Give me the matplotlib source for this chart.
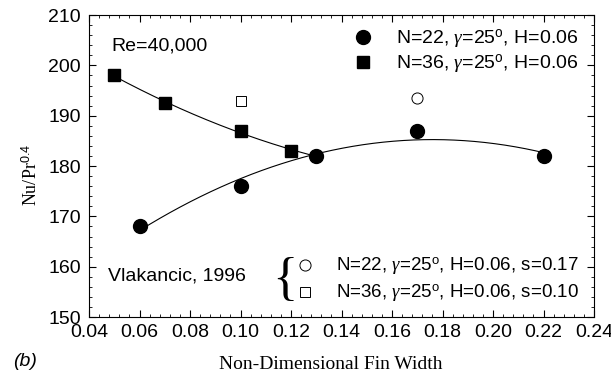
import numpy as np
import matplotlib
matplotlib.use("Agg")
import matplotlib.pyplot as plt
from matplotlib.lines import Line2D
from matplotlib.ticker import MultipleLocator

# datos
x_n22 = [0.06, 0.10, 0.13, 0.17, 0.22]
y_n22 = [168, 176, 182, 187, 182]
x_n36 = [0.05, 0.07, 0.10, 0.12]
y_n36 = [198, 192.5, 187, 183]
x_vl_circ = [0.17]
y_vl_circ = [193.5]
x_vl_sq = [0.10]
y_vl_sq = [193]

lab_n22 = r"N=22, $\gamma$=25$^{\rm o}$, H=0.06"
lab_n36 = r"N=36, $\gamma$=25$^{\rm o}$, H=0.06"
lab_vl_circ = r"N=22, $\gamma$=25$^{\rm o}$, H=0.06, s=0.17"
lab_vl_sq = r"N=36, $\gamma$=25$^{\rm o}$, H=0.06, s=0.10"

plt.rcParams['font.family'] = ['Liberation Sans', 'DejaVu Sans']
plt.rcParams['mathtext.fontset'] = 'custom'
plt.rcParams['mathtext.rm'] = 'Liberation Sans'
plt.rcParams['mathtext.it'] = 'Liberation Serif:italic'

fig = plt.figure(figsize=(6.11, 3.77), dpi=100)
ax = fig.add_axes([0.1457, 0.159, 0.8265, 0.801])

# curvas de ajuste (polinomio de grado 2)
c1 = np.polyfit(x_n22, y_n22, 2)
xf1 = np.linspace(min(x_n22), max(x_n22), 200)
ax.plot(xf1, np.polyval(c1, xf1), color='black', lw=0.8)
c2 = np.polyfit(x_n36 + [0.13], y_n36 + [182], 2)
xf2 = np.linspace(min(x_n36), 0.13, 200)
ax.plot(xf2, np.polyval(c2, xf2), color='black', lw=0.8)

ax.plot(x_n22, y_n22, 'o', color='black', ms=10, ls='none')
ax.plot(x_n36, y_n36, 's', color='black', ms=9, ls='none')
ax.plot(x_vl_circ, y_vl_circ, 'o', mfc='white', mec='black', mew=0.7, ms=8, ls='none')
ax.plot(x_vl_sq, y_vl_sq, 's', mfc='white', mec='black', mew=0.7, ms=7.5, ls='none')

ax.set_xlim(0.04, 0.24)
ax.set_ylim(150, 210)
ax.xaxis.set_major_locator(MultipleLocator(0.02))
ax.xaxis.set_minor_locator(MultipleLocator(0.004))
ax.yaxis.set_major_locator(MultipleLocator(10))
ax.yaxis.set_minor_locator(MultipleLocator(2))
ax.set_xticklabels([f"{v:.2f}" for v in ax.get_xticks()])
ax.tick_params(which='both', direction='in', top=True, right=True, labelsize=14)
ax.tick_params(which='major', length=5)
ax.tick_params(which='minor', length=2.5)
ax.tick_params(axis='x', pad=5)
ax.tick_params(axis='y', pad=6)

ax.set_xlabel("Non-Dimensional Fin Width", family='Liberation Serif', fontsize=14)
ax.xaxis.set_label_coords(0.478, -0.13)
ax.set_ylabel(r"Nu/Pr$^{0.4}$", family='Liberation Serif', fontsize=13)
ax.yaxis.set_label_coords(-0.095, 0.47)

ax.text(0.045, 0.897, "Re=40,000", transform=ax.transAxes, fontsize=14, va='center')
ax.text(0.037, 0.137, "Vlakancic, 1996", transform=ax.transAxes, fontsize=14, va='center')
ax.text(0.362, 0.12, "{", transform=ax.transAxes, fontsize=38, va='center',
        family='Liberation Serif')
fig.text(0.022, 0.028, "(b)", fontsize=14, style='italic')

h1 = [Line2D([], [], marker='o', color='black', ls='none', ms=10),
      Line2D([], [], marker='s', color='black', ls='none', ms=8)]
leg1 = ax.legend(h1, [lab_n22, lab_n36], loc='upper right', frameon=False,
                 fontsize=14, labelspacing=0.1, handletextpad=0.7,
                 borderaxespad=0.0, bbox_to_anchor=(0.984, 0.985))
ax.add_artist(leg1)
h2 = [Line2D([], [], marker='o', mfc='white', mec='black', mew=0.7, ls='none', ms=8),
      Line2D([], [], marker='s', mfc='white', mec='black', mew=0.7, ls='none', ms=7.5)]
ax.legend(h2, [lab_vl_circ, lab_vl_sq], loc='lower right', frameon=False,
          fontsize=13.5, labelspacing=0.3, handletextpad=0.65,
          borderaxespad=0.0, bbox_to_anchor=(0.984, 0.017))

fig.savefig("out.png", dpi=100)
